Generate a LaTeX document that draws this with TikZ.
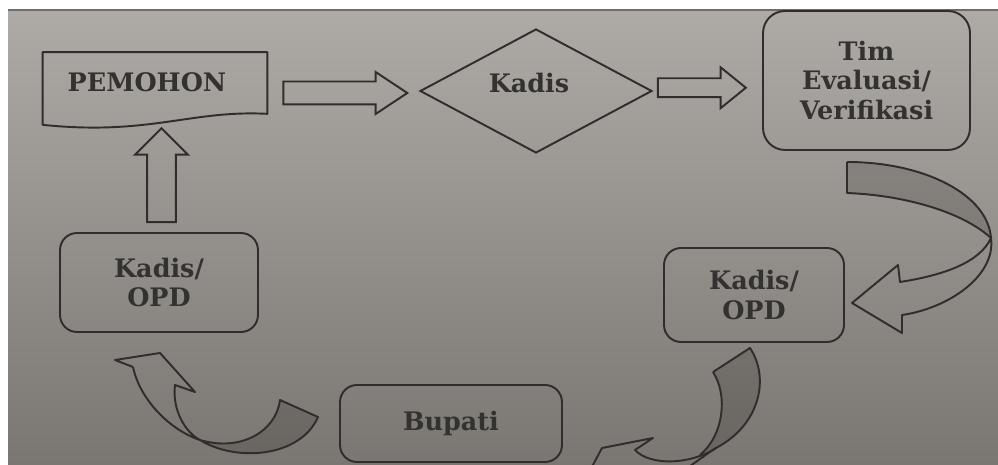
\documentclass[tikz,border=0pt]{standalone}
\usepackage{fontspec}
\setmainfont{DejaVu Serif}
\usetikzlibrary{shapes.geometric,shapes.arrows,calc,positioning}

\definecolor{bgtop}{RGB}{174,170,165}
\definecolor{bgbot}{RGB}{122,118,113}
\definecolor{ink}{RGB}{48,46,44}
\definecolor{txt}{RGB}{52,50,48}

\tikzset{
  box/.style={draw=ink, line width=1.1pt, rounded corners=0.34cm, align=center,
    text=txt, font=\fontsize{14.5}{17}\selectfont\bfseries, inner sep=0pt},
  lbl/.style={text=txt, font=\fontsize{14.5}{17}\selectfont\bfseries, inner sep=0pt},
  blockarrow/.style={single arrow, draw=ink, line width=1.1pt, inner xsep=0pt},
  backface/.style={fill=black, fill opacity=0.14, draw=none},
  ribbon/.style={draw=ink, line width=1.1pt, line join=round}
}

\begin{document}
\begin{tikzpicture}[x=0.02cm, y=-0.02cm]
        % Page
        \fill[white] (0,0) rectangle (998,465);
        \useasboundingbox (0,0) rectangle (998,465);
        \shade[top color=bgtop, bottom color=bgbot] (8,10) rectangle (998,465);
        \draw[ink!70, line width=0.8pt] (8,10) -- (998,10);

        % PEMOHON
        \node[minimum width=4.48cm, minimum height=1.22cm, inner sep=0pt] (pemohon) at (155,83) {};
        \draw[ribbon] (pemohon.north west) -- (pemohon.north east) -- (pemohon.south east)
            .. controls +(-77,-4) and +(107,11) .. ($(pemohon.south west)+(0,11)$) -- cycle;
        \node[lbl] (pemohontxt) at (147,82) {PEMOHON};

        % Kadis
        \node[diamond, draw=ink, line width=1.1pt, minimum width=4.64cm, minimum height=2.48cm, inner sep=0pt] (kadis) at (536,91) {};
        \node[lbl] (kadistxt) at (529,83) {Kadis};

        % Tim Evaluasi
        \node[box, rounded corners=0.44cm, minimum width=4.14cm, minimum height=2.78cm] (tim) at (866.5,80.5) {Tim\\Evaluasi/\\Verifikasi};

        % Kadis/OPD, Bupati
        \node[box, minimum width=3.6cm, minimum height=1.88cm] (opdkanan) at (754,295) {Kadis/\\OPD};
        \node[box, minimum width=3.96cm, minimum height=1.98cm] (opdkiri) at (159,282.5) {Kadis/\\OPD};
        \node[box, minimum width=4.44cm, minimum height=1.54cm] (bupati) at (451,423.5) {Bupati};

        % Straight arrows
        \node[blockarrow, minimum height=2.48cm, inner ysep=0.21cm, single arrow head extend=0.19cm,
            single arrow tip angle=67] (panah1) at ($(pemohon.east)!0.5!(kadis.west)+(-6.5,6)$) {};
        \node[blockarrow, minimum height=1.76cm, inner ysep=0.17cm, single arrow head extend=0.22cm,
            single arrow tip angle=78] (panah2) at ($(kadis.east)!0.5!(tim.west)+(-11.5,2)$) {};
        \node[blockarrow, rotate=90, minimum height=1.88cm, inner ysep=0.27cm, single arrow head extend=0.24cm,
            single arrow tip angle=90] (panah3) at ($(pemohon.south)!0.5!(opdkiri.north)+(4.5,9.5)$) {};

        \begin{scope}
        \clip (0,0) rectangle (998,465);
        % Tim -> Kadis/OPD (right)
        \fill[backface] (847,162) .. controls (925,162) and (988,195) .. (991,238)
            .. controls (960,210) and (900,195) .. (847,193) -- cycle;
        \draw[ribbon] (847,162) .. controls (925,162) and (988,195) .. (991,238)
            .. controls (996,275) and (950,308) .. (902,315) -- (902,333) -- (852,303) -- (898,265) -- (900,282)
            .. controls (945,275) and (980,262) .. (991,238);
        \draw[ribbon] (847,162) -- (847,193) .. controls (900,195) and (960,210) .. (991,238);

        % Kadis/OPD (right) -> Bupati
        \fill[backface] (750,348) .. controls (770,378) and (760,425) .. (716,448) -- (700,455)
            .. controls (724,435) and (728,395) .. (713,372) -- cycle;
        \draw[ribbon] (713,372) -- (750,348) .. controls (770,378) and (760,425) .. (716,448)
            .. controls (705,455) and (695,463) .. (684,470);
        \draw[ribbon] (713,372) .. controls (728,395) and (724,435) .. (700,455);
        \draw[ribbon] (716,448) .. controls (690,465) and (650,466) .. (635,450) -- (653,438) -- (602,448) -- (586,478);

        % Bupati -> Kadis/OPD (left)
        \fill[backface] (200,440) .. controls (235,462) and (300,458) .. (318,417) -- (280,400)
            .. controls (276,432) and (240,452) .. (200,440) -- cycle;
        \draw[ribbon] (133,367) -- (115,360) -- (160,353) -- (195,392) -- (175,385)
            .. controls (172,410) and (185,432) .. (200,440)
            .. controls (235,462) and (300,458) .. (318,417) -- (280,400)
            .. controls (276,432) and (240,452) .. (200,440)
            .. controls (170,430) and (140,400) .. (133,367);
        \end{scope}
\end{tikzpicture}
\end{document}
